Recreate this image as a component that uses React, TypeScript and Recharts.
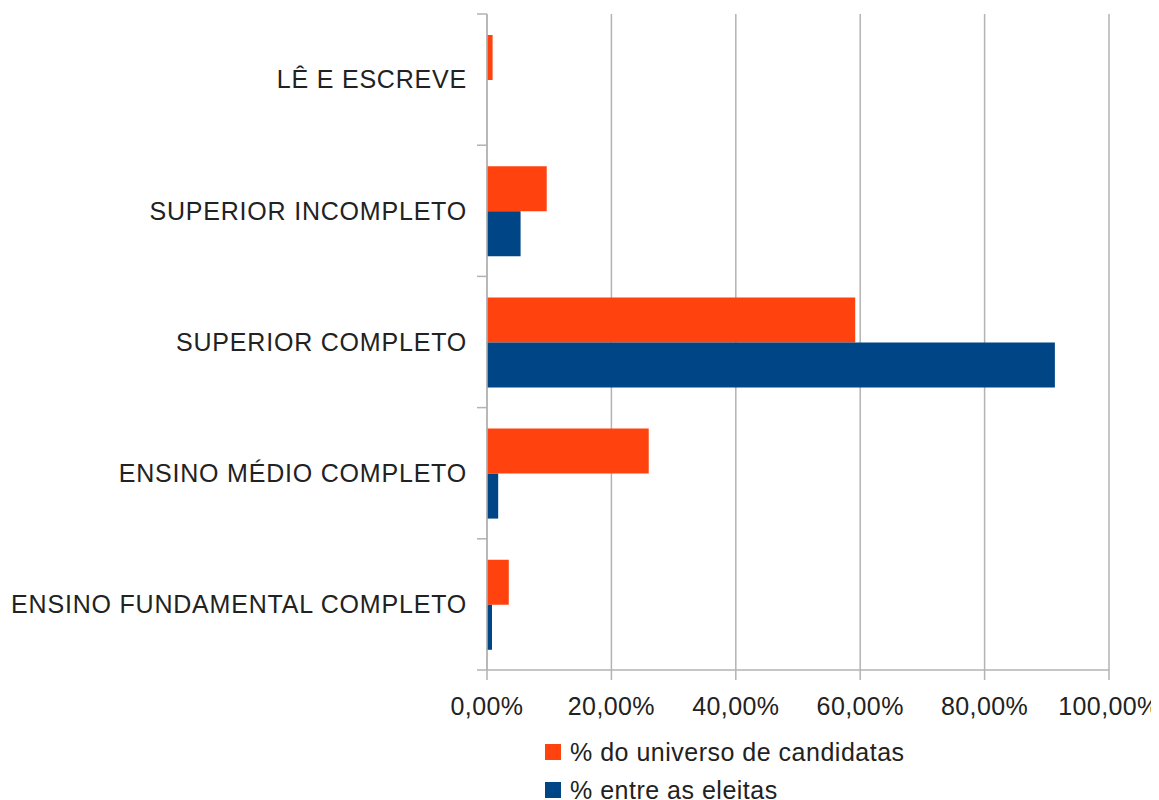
import { BarChart, Bar, XAxis, YAxis, CartesianGrid, Legend } from 'recharts';

const categories = [
  'LÊ E ESCREVE',
  'SUPERIOR INCOMPLETO',
  'SUPERIOR COMPLETO',
  'ENSINO MÉDIO COMPLETO',
  'ENSINO FUNDAMENTAL COMPLETO',
];
const candidatas = [0.009, 0.096, 0.592, 0.26, 0.035];
const eleitas = [0, 0.054, 0.913, 0.018, 0.008];
const xTicks = [0, 0.2, 0.4, 0.6, 0.8, 1];

const data = categories.map((name, i) => ({
  name,
  candidatas: candidatas[i],
  eleitas: eleitas[i],
}));

const WIDTH = 1151;
const HEIGHT = 792;
const MARGIN = { top: 6, right: 50, bottom: 0, left: 0 };
const X_AXIS_HEIGHT = 130;
const PLOT_HEIGHT = HEIGHT - MARGIN.top - MARGIN.bottom - X_AXIS_HEIGHT;
const BAND = PLOT_HEIGHT / categories.length;

const FONT = '"Liberation Sans", Arial, sans-serif';
const GRID = '#b3b3b3';
const TEXT = '#222';

const fmt = (v: number) => (v * 100).toFixed(2).replace('.', ',') + '%';

function CategoryTick(props: any) {
  const { x, y, payload, index } = props;
  const idx = index ?? payload?.index ?? 0;
  return (
    <g>
      <line x1={x + 10} x2={x + 20} y1={y - BAND / 2} y2={y - BAND / 2} stroke={GRID} strokeWidth={1.5} />
      {idx === categories.length - 1 && (
        <line x1={x + 10} x2={x + 20} y1={y + BAND / 2} y2={y + BAND / 2} stroke={GRID} strokeWidth={1.5} />
      )}
      <text
        x={x}
        y={y}
        dy="0.35em"
        textAnchor="end"
        fontSize={25}
        fontFamily={FONT}
        fill={TEXT}
        letterSpacing={0.8}
      >
        {payload.value}
      </text>
    </g>
  );
}

function LegendContent(props: any) {
  const { payload } = props;
  return (
    <div style={{ fontFamily: FONT, fontSize: 25, color: TEXT, letterSpacing: 0.5 }}>
      {(payload || []).map((entry: any) => (
        <div key={entry.value} style={{ display: 'flex', alignItems: 'center', height: 38 }}>
          <span style={{ width: 16, height: 16, background: entry.color, marginRight: 9, display: 'inline-block' }} />
          <span>{entry.value}</span>
        </div>
      ))}
    </div>
  );
}

export default function App() {
  return (
    <BarChart
      width={WIDTH}
      height={HEIGHT}
      data={data}
      layout="vertical"
      margin={MARGIN}
      barCategoryGap="16%"
      barGap={0}
    >
      <CartesianGrid horizontal={false} stroke={GRID} strokeWidth={1.5} />
      <XAxis
        type="number"
        domain={[0, 1]}
        ticks={xTicks}
        tickFormatter={fmt}
        height={X_AXIS_HEIGHT}
        tickSize={10}
        tickMargin={17}
        axisLine={{ stroke: GRID, strokeWidth: 1.5 }}
        tickLine={{ stroke: GRID, strokeWidth: 1.5 }}
        tick={{ fontSize: 25, fontFamily: FONT, fill: TEXT, letterSpacing: 0.4 }}
        interval={0}
      />
      <XAxis
        xAxisId="top"
        orientation="top"
        type="number"
        domain={[0, 1]}
        height={0}
        tick={false}
        tickLine={false}
        axisLine={{ stroke: GRID, strokeWidth: 1.5 }}
      />
      <YAxis
        type="category"
        dataKey="name"
        width={479}
        tickSize={10}
        tickMargin={10}
        tickLine={false}
        axisLine={{ stroke: GRID, strokeWidth: 1.5 }}
        tick={<CategoryTick />}
        interval={0}
      />
      <Legend
        layout="vertical"
        align="center"
        verticalAlign="middle"
        wrapperStyle={{ top: 725, left: 537, width: 420 }}
        content={<LegendContent />}
      />
      <Bar dataKey="candidatas" name="% do universo de candidatas" fill="#ff420e" isAnimationActive={false} />
      <Bar dataKey="eleitas" name="% entre as eleitas" fill="#004586" isAnimationActive={false} />
    </BarChart>
  );
}
